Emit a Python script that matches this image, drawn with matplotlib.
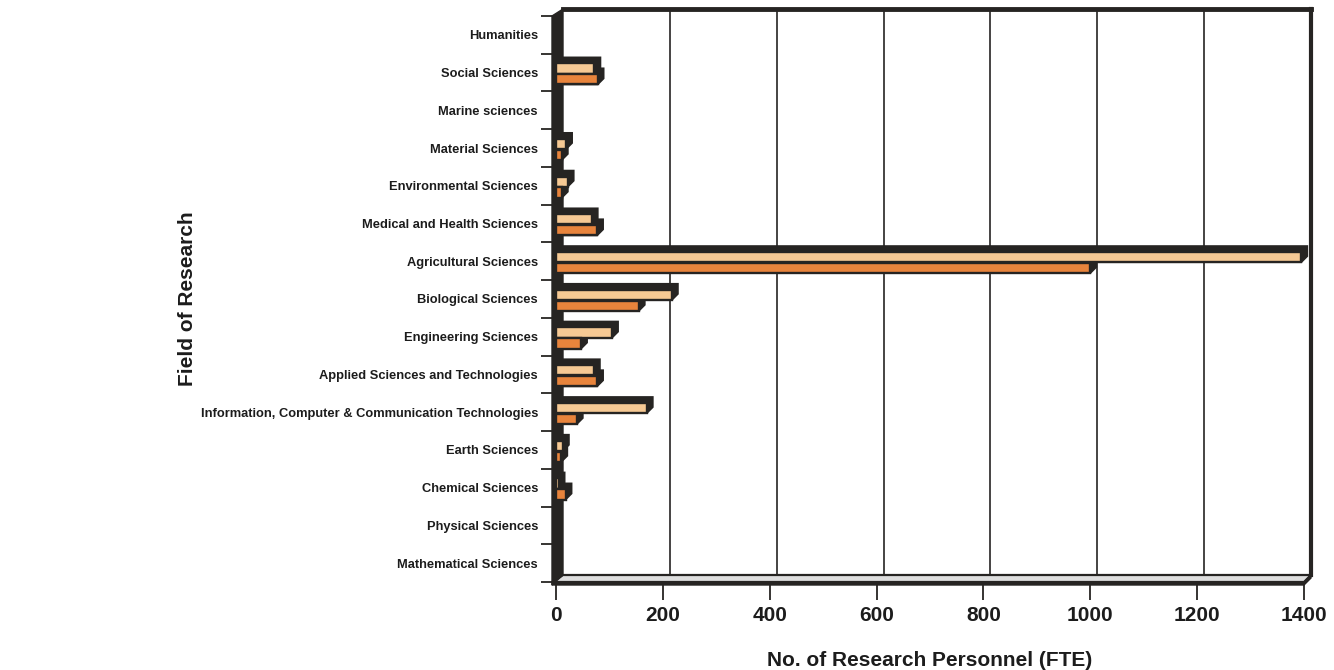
import matplotlib
matplotlib.use("Agg")
import matplotlib.pyplot as plt
from matplotlib.patches import Polygon
import numpy as np

# ---- data -------------------------------------------------------------
fields = [
    "Humanities",
    "Social Sciences",
    "Marine sciences",
    "Material Sciences",
    "Environmental Sciences",
    "Medical and Health Sciences",
    "Agricultural Sciences",
    "Biological Sciences",
    "Engineering Sciences",
    "Applied Sciences and Technologies",
    "Information, Computer & Communication Technologies",
    "Earth Sciences",
    "Chemical Sciences",
    "Physical Sciences",
    "Mathematical Sciences",
]
series_upper = [0, 72, 0, 19, 22, 67, 1395, 217, 105, 71, 170, 13, 5, 0, 0]
series_lower = [0, 78, 0, 11, 11, 77, 1000, 155, 47, 77, 39, 10, 18, 0, 0]
x_ticks = [0, 200, 400, 600, 800, 1000, 1200, 1400]

# ---- style ------------------------------------------------------------
LIGHT = "#F6C994"
ORANGE = "#E8843C"
DARK = "#262422"
TEXT = "#1c1c1c"
FLOOR = "#dedede"
SANS = ["Liberation Sans", "DejaVu Sans"]

plt.rcParams["hatch.color"] = "#4a4844"

W, H = 1334, 670
fig = plt.figure(figsize=(W / 100, H / 100), dpi=100)
fig.patch.set_facecolor("white")
ax = fig.add_axes([556 / W, 88 / H, 748 / W, 566 / H])
ax.set_xlim(x_ticks[0], x_ticks[-1])
ax.set_ylim(len(fields) - 0.5, -0.5)
ax.patch.set_visible(False)
for s in ax.spines.values():
    s.set_visible(False)

XMAX = x_ticks[-1]
Y_TOP, Y_BOT = -0.5, len(fields) - 0.5


def offset(dx_px, dy_px):
    """Data-space displacement matching a shift of (dx_px, dy_px) pixels."""
    inv = ax.transData.inverted()
    o = ax.transData.transform((0, 0))
    p = inv.transform(o + np.array([dx_px, dy_px]))
    return p[0], p[1]


WX, WY = offset(7, 7)        # depth of the 3-D box
BX, BY = offset(6, 6)        # depth of each bar
TX, _ = offset(-4, 0)        # thickness of the side wall
_, FT = offset(0, -3)        # thickness of the floor slab

# back wall
ax.add_patch(Polygon([(WX, Y_TOP + WY), (XMAX + WX, Y_TOP + WY),
                      (XMAX + WX, Y_BOT + WY), (WX, Y_BOT + WY)],
                     closed=True, fc="white", ec="none", zorder=0, clip_on=False))
for v in x_ticks[1:-1]:
    ax.plot([v + WX, v + WX], [Y_BOT + WY, Y_TOP + WY], color=DARK, lw=1.2,
            zorder=1, clip_on=False, solid_capstyle="butt")
ax.plot([WX, XMAX + WX], [Y_TOP + WY, Y_TOP + WY], color=DARK, lw=3.5,
        zorder=1.5, clip_on=False, solid_capstyle="projecting")
ax.plot([XMAX + WX, XMAX + WX], [Y_TOP + WY, Y_BOT + WY], color=DARK, lw=3,
        zorder=1.5, clip_on=False, solid_capstyle="projecting")

# floor
ax.add_patch(Polygon([(TX, Y_BOT), (XMAX, Y_BOT), (XMAX + WX, Y_BOT + WY),
                      (WX, Y_BOT + WY)],
                     closed=True, fc=FLOOR, ec=DARK, lw=1.6, zorder=2, clip_on=False))
ax.add_patch(Polygon([(TX, Y_BOT), (XMAX, Y_BOT), (XMAX + WX, Y_BOT + WY),
                      (XMAX + WX, Y_BOT + WY + FT), (XMAX, Y_BOT + FT), (TX, Y_BOT + FT)],
                     closed=True, fc=DARK, ec=DARK, lw=1, zorder=2.1, clip_on=False))

# side wall
ax.add_patch(Polygon([(TX, Y_BOT + FT), (TX, Y_TOP), (WX, Y_TOP + WY),
                      (WX, Y_BOT + WY)],
                     closed=True, fc=DARK, ec=DARK, lw=1, hatch="////",
                     zorder=2.2, clip_on=False))

# bars: dark extrusion first, then the coloured front faces
h = 0.27
ys = np.arange(len(fields))
groups = [(series_upper, -0.11, LIGHT), (series_lower, 0.18, ORANGE)]
for vals, shift, color in groups:
    for y, v in zip(ys + shift, vals):
        if v <= 0:
            continue
        top, bot = y - h / 2, y + h / 2
        ax.add_patch(Polygon([(0, bot), (0, top), (BX, top + BY), (v + BX, top + BY),
                              (v + BX, bot + BY), (v, bot)],
                             closed=True, fc=DARK, ec=DARK, lw=1.2, zorder=3,
                             clip_on=False))
for vals, shift, color in groups:
    ax.barh(ys + shift, vals, height=h, color=color, edgecolor=DARK,
            linewidth=1.7, zorder=4, clip_on=False)

# axes ticks and labels
ax.set_yticks(ys)
ax.set_yticklabels(fields, fontfamily=SANS, fontweight="bold", fontsize=9.3,
                   color=TEXT)
ax.set_yticks(np.arange(len(fields) + 1) - 0.5, minor=True)
ax.tick_params(axis="y", which="major", length=0, pad=13)
ax.tick_params(axis="y", which="minor", length=10.5, width=1.3, color=DARK,
               direction="out")

ax.set_xticks(x_ticks)
ax.set_xticklabels([str(t) for t in x_ticks], fontfamily=SANS, fontsize=15,
                   fontweight="bold", color=TEXT)
ax.tick_params(axis="x", which="major", length=13, width=1.3, color=DARK,
               direction="out", pad=4)

ax.set_xlabel("No. of Research Personnel (FTE)", fontfamily=SANS,
              fontweight="bold", fontsize=15, color=TEXT, va="center")
ax.xaxis.set_label_coords(0.5, -0.138)
ax.set_ylabel("Field of Research", fontfamily=SANS, fontweight="bold",
              fontsize=15, color=TEXT, va="center")
ax.yaxis.set_label_coords(-0.492, 0.5)

fig.savefig("out.png", dpi=100, facecolor="white")
